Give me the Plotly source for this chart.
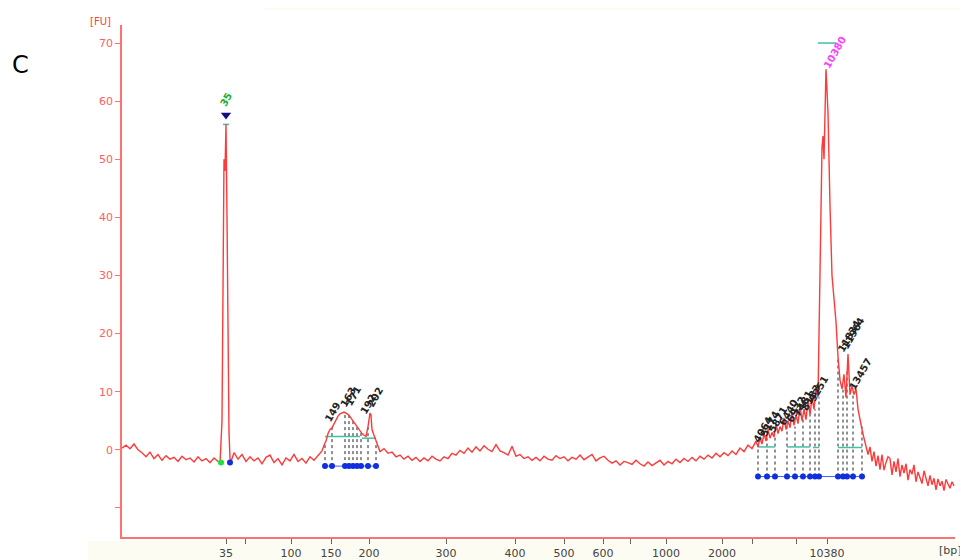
import plotly.graph_objects as go

# ---- data (migration position units, FU) ----
pos = [0,4,8,12,16,20,24,28,32,36,40,44,48,52,56,60,64,68,72,76,80,84,88,92,96,
       98,100,101,102,103,104,105,106,107,108,109,
       112,116,120,124,128,132,136,140,144,148,152,156,160,164,168,172,176,180,184,188,192,196,200,
       202,204,206,208,210,212,214,216,218,220,222,224,226,228,230,232,234,236,238,240,242,244,246,248,249,250,252,254,256,258,
       262,266,270,274,278,282,286,290,294,298,302,306,310,314,318,322,326,330,334,338,342,346,350,354,358,362,366,370,374,378,
       382,386,390,394,398,402,406,410,414,418,422,426,430,434,438,442,446,450,454,458,462,466,470,474,478,482,486,490,494,498,
       502,506,510,514,518,522,526,530,534,538,542,546,550,554,558,562,566,570,574,578,582,586,590,594,598,602,606,610,614,618,
       622,626,630,634,
       636,638,640,642,644,646,648,650,652,654,656,658,660,662,664,666,668,670,672,674,676,678,680,682,684,686,688,690,692,694,696,
       698,700,701,702,704,706,708,710,712,714,716,718,720,722,724,726,728,730,732,734,736,738,740,742,744,746,748,
       750,752,754,756,758,760,762,764,766,768,770,772,774,776,778,780,782,784,786,788,790,792,794,796,798,800,802,804,806,808,810,
       812,814,816,818,820,822,824,826,828,830,832]
fu = [0.3,0.8,0.2,1.0,0.0,-0.5,-1.2,-0.4,-1.5,-0.8,-1.8,-1.0,-1.6,-1.3,-2.0,-1.1,-1.7,-1.4,-2.1,-1.2,-1.9,-1.5,-2.2,-1.4,-2.0,
      -2.3,5,30,50,48,56,40,20,3,-1.5,-2.0,
      -0.5,-1.6,-0.8,-2.0,-1.2,-1.9,-1.4,-2.4,-1.3,-0.9,-2.2,-1.5,-2.6,-1.4,-1.9,-0.8,-2.0,-1.5,-2.3,-1.2,-1.8,-1.0,-0.2,
      0.8,1.5,2.8,3.5,3.8,4.5,5.0,5.8,6.2,6.3,6.5,6.3,6.1,5.7,5.2,4.8,4.3,3.8,3.2,2.8,2.5,2.3,4.0,6.3,6.0,3.5,2.5,1.5,0.5,-0.3,
      0.2,-0.6,-0.4,-1.2,-0.9,-1.6,-1.1,-1.8,-1.3,-2.0,-1.4,-1.9,-1.1,-1.6,-1.9,-1.2,-1.5,-0.6,-0.9,-0.1,-0.6,0.3,-0.4,0.5,-0.2,0.7,0.1,-0.3,0.9,-0.2,
      -0.5,-0.9,0.6,-1.1,-0.8,-1.5,-1.2,-1.8,-1.3,-1.9,-1.1,-1.6,-1.8,-1.0,-1.5,-1.2,-1.9,-1.3,-1.6,-0.9,-1.7,-1.3,-0.8,-1.9,-1.4,-1.1,-1.8,-2.3,-1.9,-2.6,
      -2.0,-2.2,-2.5,-1.8,-2.4,-2.8,-2.1,-2.7,-2.2,-1.8,-2.6,-2.0,-2.4,-1.6,-2.2,-1.5,-2.0,-1.3,-1.9,-1.1,-1.6,-0.9,-1.4,-0.6,-1.2,-0.5,-1.0,-0.2,-0.8,0.3,
      -0.3,0.8,0.2,1.5,
      0.5,2.0,1.0,2.8,1.5,3.5,2.0,3.0,2.2,4.5,2.8,4.0,3.2,5.5,3.5,5.0,3.8,6.5,4.2,6.0,4.5,7.5,5.0,7.0,5.2,8.5,6.0,9.0,7.0,10.5,9.0,
      30,52,54,50,65.5,58,42,30,26,22,16,12,10.5,13,9,16.5,9.5,11,9.5,10.5,7,5.0,3.5,2,0.5,-0.8,0.5,
      -2,-0.3,-2.8,-1,-3.4,-0.8,-3.5,-2.2,-1.2,-1.5,-4.3,-2.0,-3.8,-1.5,-4.6,-2.6,-4.0,-2.4,-5.2,-3.4,-4.2,-2.6,-5.5,-3.8,-4.8,-5.8,-3.6,-4.9,-6.2,-4.4,-6.0,
      -4.9,-6.9,-5.0,-6.2,-5.4,-7.0,-5.1,-6.0,-6.6,-5.5,-6.2]
pos = pos[:len(fu)]

ladder_pos = [104,123,169,209,247,324,393,442,481,508,544,600,630,674,705]
ladder_bp = ["35","","100","150","200","300","400","500","600","","1000","2000","","","10380"]

hump_pos = [203,210,223,227,231,235,239,246,254]
hump_top = [1.2,3.8,6.4,6.1,5.2,4.2,3.1,4.0,1.2]
hump_base = -2.8
right_pos = [636,645,653,665,673,681,688,693,697,716,721,725,731,740]
right_top = [1.0,2.0,2.5,4.0,4.0,5.5,6.0,7.0,9.0,16.0,11.0,14.0,10.0,4.0]
right_base = -4.6

hump_labels = ["149","163","171","192","202"]
hump_lab_pos = [210,226,231,246,253]
hump_lab_y = [6.5,9.0,9.2,7.8,9.0]
right_labels = ["4064","5174","5871","6440","6932","7481","8183","9251"]
right_lab_pos = [641,648,656,666,674,681,689,697]
right_lab_y = [3.5,4.5,5.2,6.5,7.0,8.0,9.0,10.5]
big_labels = ["11834","11964","13457"]
big_lab_pos = [727,731,738]
big_lab_y = [19.5,20.0,13.0]

RED = "#ff3a3a"
fig = go.Figure()

# dotted drop lines
for P, T, B in [(hump_pos, hump_top, hump_base), (right_pos, right_top, right_base)]:
    xs, ys = [], []
    for p, t in zip(P, T):
        xs += [p, p, None]
        ys += [B, t, None]
    fig.add_trace(go.Scatter(x=xs, y=ys, mode="lines",
                             line=dict(color="#222222", width=1, dash="dot"),
                             hoverinfo="skip", showlegend=False))

# teal baselines
teal_x = [203, 238, None, 240, 254, None, 636, 653, None, 665, 688, None, 691, 697, None, 716, 740, None, 101, 107, None, 696, 714]
teal_y = [2.3, 2.3, None, 2.0, 2.0, None, 0.5, 0.5, None, 0.5, 0.5, None, 0.4, 0.4, None, 0.4, 0.4, None, 56, 56, None, 70, 70]
fig.add_trace(go.Scatter(x=teal_x, y=teal_y, mode="lines",
                         line=dict(color="#40c0a8", width=1.5),
                         hoverinfo="skip", showlegend=False))

# main trace
fig.add_trace(go.Scatter(x=pos, y=fu, mode="lines",
                         line=dict(color=RED, width=1.4), showlegend=False))

# blue dots
fig.add_trace(go.Scatter(x=hump_pos, y=[hump_base]*len(hump_pos), mode="lines+markers",
                         line=dict(color="#4060ff", width=1), marker=dict(color="#1030e0", size=6),
                         showlegend=False))
fig.add_trace(go.Scatter(x=right_pos, y=[right_base]*len(right_pos), mode="lines+markers",
                         line=dict(color="#4060ff", width=1), marker=dict(color="#1030e0", size=6),
                         showlegend=False))
fig.add_trace(go.Scatter(x=[99], y=[-2.2], mode="markers",
                         marker=dict(color="#20e040", size=6), showlegend=False))
fig.add_trace(go.Scatter(x=[108], y=[-2.2], mode="markers",
                         marker=dict(color="#1030e0", size=6), showlegend=False))
fig.add_trace(go.Scatter(x=[104], y=[57.6], mode="markers",
                         marker=dict(color="#101080", size=9, symbol="triangle-down"),
                         showlegend=False))

anns = []
def lab(x, y, t, color="#111111", size=11):
    anns.append(dict(x=x, y=y, text="<b>" + t + "</b>", showarrow=False, textangle=-60,
                     xanchor="center", yanchor="middle",
                     font=dict(family="DejaVu Sans", size=size, color=color)))
for t, x, y in zip(hump_labels, hump_lab_pos, hump_lab_y):
    lab(x, y, t, color="#222222", size=10)
for t, x, y in zip(right_labels, right_lab_pos, right_lab_y):
    lab(x, y, t, color="#222222", size=10)
for t, x, y in zip(big_labels, big_lab_pos, big_lab_y):
    lab(x, y, t, color="#222222", size=10)
lab(104, 60.3, "35", color="#10b030", size=10)
lab(713, 68.3, "10380", color="#ff40ff", size=10)

def paper_text(x, y, t, size, color):
    anns.append(dict(xref="paper", yref="paper", x=x, y=y, text=t, showarrow=False,
                     xanchor="center", yanchor="middle",
                     font=dict(family="DejaVu Sans", size=size, color=color)))
paper_text(-0.1224, 0.922, "C", 24, "black")
paper_text(-0.026, 1.006, "[FU]", 10, RED)
paper_text(0.995, -0.027, "[bp]", 11, "#444444")

# page body has an 8px margin, so the figure is 8px smaller with 8px less left/top margin
fig.update_layout(
    width=960, height=552,
    margin=dict(l=114, r=13, t=17, b=23),
    paper_bgcolor="white", plot_bgcolor="white",
    annotations=anns,
    showlegend=False,
    xaxis=dict(range=[0, 833], showgrid=False, zeroline=False, showline=True, automargin=False,
               linecolor="#ff7070", linewidth=1.5,
               tickmode="array", tickvals=ladder_pos, ticktext=ladder_bp,
               ticks="outside", ticklen=5, tickcolor="#666666",
               tickfont=dict(family="DejaVu Sans", size=11, color="#444444")),
    yaxis=dict(range=[-15, 73.1], showgrid=False, zeroline=False, showline=True, automargin=False,
               linecolor="#ff7070", linewidth=1.5,
               tickmode="array", tickvals=[-10, 0, 10, 20, 30, 40, 50, 60, 70],
               ticktext=["", "0", "10", "20", "30", "40", "50", "60", "70"],
               ticks="outside", ticklen=5, tickcolor="#ff7070",
               tickfont=dict(family="DejaVu Sans", size=11, color="#ff6060")),
    shapes=[
        dict(type="rect", xref="paper", yref="paper", x0=(257-114)/833, x1=(960-114)/833,
             y0=(529+8)/512, y1=(529-2)/512, fillcolor="#fbfbee", line=dict(width=0), layer="below"),
        dict(type="rect", xref="paper", yref="paper", x0=(80-114)/833, x1=(960-114)/833,
             y0=(529-533)/512, y1=(529-552)/512, fillcolor="#fcfcf2", line=dict(width=0), layer="below"),
    ],
)

fig.write_html("out.html")
